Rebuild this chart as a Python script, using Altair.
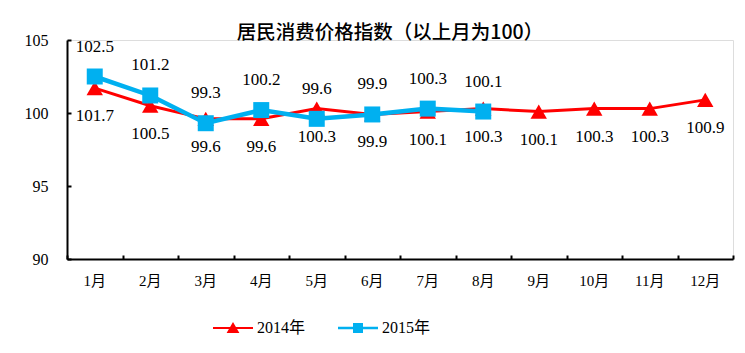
import altair as alt
import pandas as pd

# ---- data ----
months = ["1月", "2月", "3月", "4月", "5月", "6月", "7月", "8月", "9月", "10月", "11月", "12月"]
cpi_2014 = [101.7, 100.5, 99.6, 99.6, 100.3, 99.9, 100.1, 100.3, 100.1, 100.3, 100.3, 100.9]
cpi_2015 = [102.5, 101.2, 99.3, 100.2, 99.6, 99.9, 100.3, 100.1]
series_names = ["2014年", "2015年"]
y_ticks = [90, 95, 100, 105]
title_text = "居民消费价格指数（以上月为100）"

rows = []
for m, v in zip(months, cpi_2014):
    rows.append({"月份": m, "指数": v, "年份": series_names[0]})
for m, v in zip(months, cpi_2015):
    rows.append({"月份": m, "指数": v, "年份": series_names[1]})
df = pd.DataFrame(rows)

FONT = "Liberation Serif, Noto Sans CJK SC"
RED = "#FF0000"
BLUE = "#00B0F0"
W, H = 666, 219

xscale = alt.Scale(type="band", paddingInner=0, paddingOuter=0, domain=months)
yscale = alt.Scale(domain=[90, 105], nice=False, zero=False)

x_plain = alt.X("月份:N", sort=months, scale=xscale, axis=None)
y_plain = alt.Y("指数:Q", scale=yscale, axis=None)

base = alt.Chart(df)
d14 = base.transform_filter(alt.datum["年份"] == series_names[0])
d15 = base.transform_filter(alt.datum["年份"] == series_names[1])

red_line = d14.mark_line(color=RED, strokeWidth=3).encode(
    x=alt.X("月份:N", sort=months, scale=xscale,
            axis=alt.Axis(title=None, ticks=False, labelAngle=0, grid=False,
                          domainColor="black", domainWidth=2,
                          labelFont=FONT, labelFontSize=15, labelColor="black",
                          labelPadding=14)),
    y=alt.Y("指数:Q", scale=yscale,
            axis=alt.Axis(title=None, ticks=False, grid=False, values=y_ticks,
                          domainColor="black", domainWidth=2,
                          labelFont=FONT, labelFontSize=16, labelColor="black",
                          labelPadding=19)),
)
red_pts = d14.mark_point(shape="triangle-up", filled=True, color=RED, size=270, opacity=1).encode(
    x=x_plain, y=y_plain)
blue_line = d15.mark_line(color=BLUE, strokeWidth=4.5).encode(x=x_plain, y=y_plain)
blue_pts = d15.mark_point(shape="square", filled=True, color=BLUE, size=256, opacity=1).encode(
    x=x_plain, y=y_plain)

red_txt = d14.mark_text(font=FONT, fontSize=17, color="black", dy=28, baseline="middle").encode(
    x=x_plain, y=y_plain, text=alt.Text("指数:Q", format=".1f"))
blue_txt = d15.mark_text(font=FONT, fontSize=17, color="black", dy=-30, baseline="middle").encode(
    x=x_plain, y=y_plain, text=alt.Text("指数:Q", format=".1f"))

path_tri = "M-1,-0.05L1,-0.05L1,0.05L-1,0.05Z M0,-0.3L0.32,0.25L-0.32,0.25Z"
path_sq = "M-1,-0.065L1,-0.065L1,0.065L-1,0.065Z M-0.25,-0.25L0.25,-0.25L0.25,0.25L-0.25,0.25Z"

leg = alt.Legend(title=None, orient="none", legendX=146, legendY=268, direction="horizontal",
                 symbolSize=1600, symbolStrokeWidth=0, symbolOpacity=1,
                 labelFont=FONT, labelFontSize=16, labelColor="black",
                 columnPadding=32, labelOffset=4)

legend_layer = base.mark_point(filled=True, opacity=0, size=10).encode(
    x=alt.X("月份:N", sort=months, scale=xscale,
            axis=alt.Axis(orient="top", offset=-H, labels=False, domain=False, ticks=True,
                          tickSize=4, tickWidth=2, tickColor="black", tickBand="extent",
                          grid=False, title=None)),
    y=alt.Y("指数:Q", scale=yscale,
            axis=alt.Axis(orient="right", offset=-W, labels=False, domain=False, ticks=True,
                          values=y_ticks, tickSize=4, tickWidth=2, tickColor="black",
                          grid=False, title=None)),
    color=alt.Color("年份:N", scale=alt.Scale(domain=series_names, range=[RED, BLUE]), legend=leg),
    shape=alt.Shape("年份:N", scale=alt.Scale(domain=series_names, range=[path_tri, path_sq]), legend=leg),
)

chart = alt.layer(
    red_line, red_pts, blue_line, blue_pts, red_txt, blue_txt, legend_layer
).resolve_axis(x="independent", y="independent").properties(
    width=W, height=H,
    autosize="none",
    padding={"left": 67, "top": 40, "right": 12, "bottom": 94},
    title=alt.TitleParams(text=title_text, font="Noto Sans CJK SC", fontSize=19.5,
                          fontWeight=500, color="black", anchor="middle",
                          frame="group", offset=3, dx=-10, dy=14),
).configure_view(stroke=None).configure(background="white")

chart.save("out.html", embed_options={"renderer": "svg", "actions": False})
